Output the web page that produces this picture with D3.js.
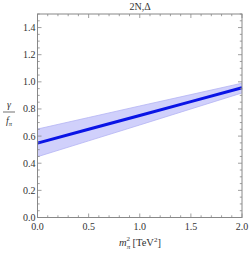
<!DOCTYPE html>
<html>
<head>
<meta charset="utf-8">
<script src="https://cdn.jsdelivr.net/npm/d3@7"></script>
<style>
  body { margin: 0; background: #fff; }
  text { font-family: "Liberation Serif", "DejaVu Serif", serif; fill: #333; }
</style>
</head>
<body>
<svg width="249" height="257"></svg>
<script>
// data
const mSq = [0.0, 0.5, 1.0, 1.5, 2.0];
const central = [0.548, 0.650, 0.752, 0.854, 0.956];
const upper = [0.652, 0.737, 0.822, 0.906, 0.990];
const lower = [0.448, 0.565, 0.682, 0.800, 0.918];
const xTicks = [0.0, 0.5, 1.0, 1.5, 2.0];
const yTicks = [0.0, 0.2, 0.4, 0.6, 0.8, 1.0, 1.2, 1.4];

const svg = d3.select('svg');
const box = { left: 37.5, right: 242, top: 14, bottom: 217.5 };

const x = d3.scaleLinear().domain([0, 2]).range([box.left, box.right]);
const y = d3.scaleLinear().domain([0, 1.5]).range([box.bottom, box.top]);

const rows = mSq.map(function(m, i) {
  return { m: m, c: central[i], hi: upper[i], lo: lower[i] };
});

// error band
svg.append('path')
  .datum(rows)
  .attr('fill', '#d0d0fb')
  .attr('d', d3.area()
    .x(function(d) { return x(d.m); })
    .y0(function(d) { return y(d.lo); })
    .y1(function(d) { return y(d.hi); }));

['hi', 'lo'].forEach(function(k) {
  svg.append('path')
    .datum(rows)
    .attr('fill', 'none')
    .attr('stroke', '#b4b4f4')
    .attr('stroke-width', 0.8)
    .attr('d', d3.line()
      .x(function(d) { return x(d.m); })
      .y(function(d) { return y(d[k]); }));
});

// central line
svg.append('path')
  .datum(rows)
  .attr('fill', 'none')
  .attr('stroke', '#0a14e6')
  .attr('stroke-width', 3)
  .attr('d', d3.line()
    .x(function(d) { return x(d.m); })
    .y(function(d) { return y(d.c); }));

// frame
svg.append('rect')
  .attr('x', box.left).attr('y', box.top)
  .attr('width', box.right - box.left).attr('height', box.bottom - box.top)
  .attr('fill', 'none').attr('stroke', '#888').attr('stroke-width', 1);

// ticks, all pointing inward
const ticks = svg.append('g').attr('stroke', '#888').attr('stroke-width', 0.8);
d3.range(0, 2.0001, 0.1).forEach(function(v) {
  const major = Math.abs(v / 0.5 - Math.round(v / 0.5)) < 1e-6;
  const len = major ? 4 : 2.2;
  ticks.append('line').attr('x1', x(v)).attr('x2', x(v))
    .attr('y1', box.bottom).attr('y2', box.bottom - len);
  ticks.append('line').attr('x1', x(v)).attr('x2', x(v))
    .attr('y1', box.top).attr('y2', box.top + len);
});
d3.range(0, 1.5001, 0.05).forEach(function(v) {
  const major = Math.abs(v / 0.2 - Math.round(v / 0.2)) < 1e-6;
  const len = major ? 4 : 2.2;
  ticks.append('line').attr('y1', y(v)).attr('y2', y(v))
    .attr('x1', box.left).attr('x2', box.left + len);
  ticks.append('line').attr('y1', y(v)).attr('y2', y(v))
    .attr('x1', box.right).attr('x2', box.right - len);
});

// tick labels
svg.append('g').selectAll('text').data(xTicks).join('text')
  .attr('x', function(d) { return x(d); })
  .attr('y', box.bottom + 12)
  .attr('text-anchor', 'middle')
  .attr('font-size', 10)
  .text(function(d) { return d.toFixed(1); });

svg.append('g').selectAll('text').data(yTicks).join('text')
  .attr('x', box.left - 2)
  .attr('y', function(d) { return y(d) + 3.5; })
  .attr('text-anchor', 'end')
  .attr('font-size', 10)
  .text(function(d) { return d.toFixed(1); });

// title
svg.append('text')
  .attr('x', 140).attr('y', 10)
  .attr('text-anchor', 'middle')
  .attr('font-size', 10)
  .text('2N,Δ');

// y label: gamma over f_pi
const yl = svg.append('g').attr('font-style', 'italic');
yl.append('text').attr('x', 9).attr('y', 108)
  .attr('text-anchor', 'middle').attr('font-size', 10).text('γ');
yl.append('line').attr('x1', 3).attr('x2', 15).attr('y1', 112).attr('y2', 112)
  .attr('stroke', '#333').attr('stroke-width', 0.7);
const fpi = yl.append('text').attr('x', 9).attr('y', 124)
  .attr('text-anchor', 'middle').attr('font-size', 10);
fpi.append('tspan').text('f');
fpi.append('tspan').attr('font-size', 6.5).attr('dy', 2).text('π');

// x label
const xl = svg.append('text')
  .attr('x', 140).attr('y', 246)
  .attr('text-anchor', 'middle')
  .attr('font-size', 10.5);
xl.append('tspan').attr('font-style', 'italic').text('m');
xl.append('tspan').attr('font-size', 7).attr('font-style', 'italic').attr('dy', 2.5).text('π');
xl.append('tspan').attr('font-size', 7).attr('dx', -3.8).attr('dy', -7.5).text('2');
xl.append('tspan').attr('dy', 5).text(' [TeV');
xl.append('tspan').attr('font-size', 7).attr('dy', -4).text('2');
xl.append('tspan').attr('dy', 4).text(']');
</script>
</body>
</html>
